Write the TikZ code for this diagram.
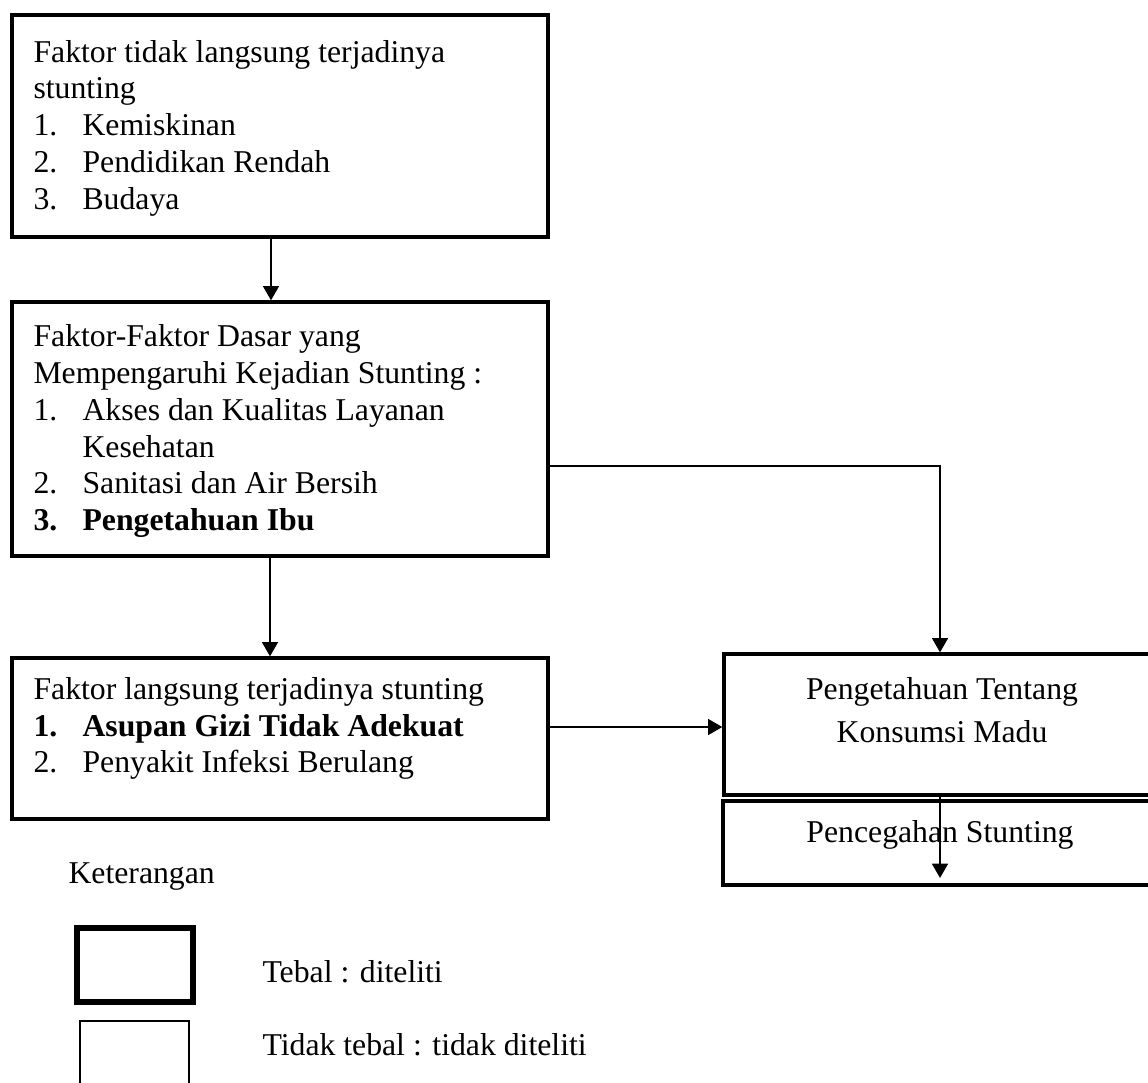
\documentclass[tikz,border=0pt]{standalone}
\usepackage{fontspec}
\setmainfont{Liberation Serif}
\usetikzlibrary{arrows.meta,fit}
\tikzset{
  box/.style={draw, line width=1.25pt, inner sep=0pt, fill=none},
  conn/.style={line width=0.75pt, -{Triangle[width=6pt,length=5.4pt]}},
  txt/.style={anchor=base west, inner sep=0pt, font=\fontsize{12pt}{14pt}\selectfont},
  ctxt/.style={anchor=base, inner sep=0pt, font=\fontsize{12pt}{14pt}\selectfont},
}
\begin{document}
\begin{tikzpicture}[x=0.3781pt, y=-0.3781pt]
\useasboundingbox (0,0) rectangle (1148,1082);
% boxes
\node[box, fit={(12,15) (548,237)}] (b1) {};
\node[box, fit={(12,302) (548,556)}] (b2) {};
\node[box, fit={(12,658) (548,819)}] (b3) {};
\node[box, fit={(724,654) (1162,795)}] (b4) {};
\node[box, fit={(723,801) (1162,885)}] (b5) {};
% box 1 text
\node[txt] (t11) at (33,63) {Faktor tidak langsung terjadinya};
\node[txt] (t12) at (33,99) {stunting};
\node[txt] (t13) at (33,136) {1.};
\node[txt] (t13b) at (82,136) {Kemiskinan};
\node[txt] (t14) at (33,173) {2.};
\node[txt] (t14b) at (82,173) {Pendidikan Rendah};
\node[txt] (t15) at (33,210) {3.};
\node[txt] (t15b) at (82,210) {Budaya};
% box 2 text
\node[txt] (t21) at (33,347) {Faktor-Faktor Dasar yang};
\node[txt] (t22) at (33,383) {Mempengaruhi Kejadian Stunting :};
\node[txt] (t23) at (33,420) {1.};
\node[txt] (t23b) at (82,420) {Akses dan Kualitas Layanan};
\node[txt] (t24) at (82,457) {Kesehatan};
\node[txt] (t25) at (33,493) {2.};
\node[txt] (t25b) at (82,493) {Sanitasi dan Air Bersih};
\node[txt] (t26) at (33,530) {\bfseries 3.};
\node[txt] (t26b) at (82,530) {\bfseries Pengetahuan Ibu};
% box 3 text
\node[txt] (t31) at (33,699) {Faktor langsung terjadinya stunting};
\node[txt] (t32) at (33,736) {\bfseries 1.};
\node[txt] (t32b) at (82,736) {\bfseries Asupan Gizi Tidak Adekuat};
\node[txt] (t33) at (33,772) {2.};
\node[txt] (t33b) at (82,772) {Penyakit Infeksi Berulang};
% box 4/5 text
\node[ctxt] (t41) at (942,699) {Pengetahuan Tentang};
\node[ctxt] (t42) at (942,742) {Konsumsi Madu};
\node[ctxt] (t51) at (940,842) {Pencegahan Stunting};
% legend
\node[txt] (lk) at (68,883) {Keterangan};
\node[draw, line width=2.1pt, inner sep=0pt, fit={(77,928) (193,1002)}] (lg1) {};
\node[draw, line width=0.4pt, inner sep=0pt, fit={(80,1021) (189,1110)}] (lg2) {};
\node[txt] (lt1) at (262,982) {Tebal : diteliti};
\node[txt] (lt2) at (262,1055) {Tidak tebal : tidak diteliti};
% connectors
\coordinate (a1) at (271,0);
\coordinate (a2) at (270,0);
\coordinate (k) at (940,466);
\coordinate (m) at (0,727);
\coordinate (e5) at (940,878);
\draw[conn] (b1.south -| a1) -- (b2.north -| a1);
\draw[conn] (b2.south -| a2) -- (b3.north -| a2);
\draw[conn] (b2.east |- k) -- (k) -- (k |- b4.north);
\draw[conn] (b3.east |- m) -- (b4.west |- m);
\draw[conn] (b4.south -| e5) -- (e5);
\end{tikzpicture}
\end{document}
